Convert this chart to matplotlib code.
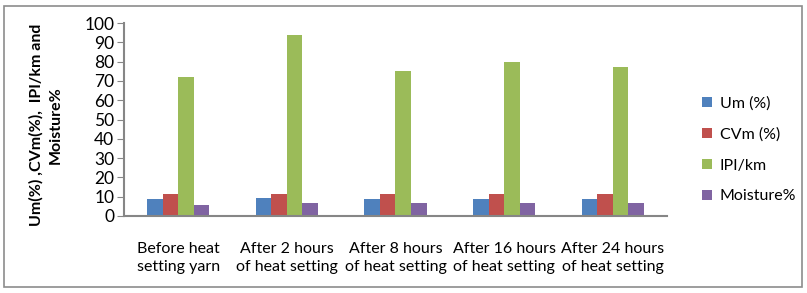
import numpy as np
import matplotlib.pyplot as plt
from matplotlib.patches import Rectangle

categories = ["Before heat\nsetting yarn", "After 2 hours\nof heat setting",
              "After 8 hours\nof heat setting", "After 16 hours\nof heat setting",
              "After 24 hours\nof heat setting"]
um = [8.8, 9.3, 8.8, 8.8, 8.8]
cvm = [11.4, 11.4, 11.4, 11.4, 11.4]
ipi = [72, 94, 75, 80, 77]
moisture = [5.7, 6.7, 6.7, 6.7, 6.7]

series = [("Um (%)", um, "#4F81BD"), ("CVm (%)", cvm, "#C0504D"),
          ("IPI/km", ipi, "#9BBB59"), ("Moisture%", moisture, "#8064A2")]

plt.rcParams['font.family'] = ['Lato', 'DejaVu Sans']

W, H = 807, 293
fig = plt.figure(figsize=(W / 100, H / 100), dpi=100)
fig.patches.append(Rectangle((4 / W, 6 / H), 798 / W, 281 / H, transform=fig.transFigure,
                             fill=False, edgecolor="#8c8c8c", linewidth=1.2))

ax = fig.add_axes([124 / W, 1 - 216 / H, 543 / W, 193 / H])
x = np.arange(len(categories))
bw = 0.143
for i, (name, vals, col) in enumerate(series):
    ax.bar(x + (i - 1.5) * bw, vals, bw, color=col, label=name)

ax.set_xlim(-0.5, len(categories) - 0.5)
ax.set_ylim(0, 100)
ax.set_yticks(range(0, 101, 10))
ax.set_xticks(x)
ax.set_xticklabels(categories, fontsize=11.5, linespacing=1.3)
ax.tick_params(axis='x', length=0, pad=19)
ax.tick_params(axis='y', length=5, color="#868686", labelsize=12.5, pad=2, direction='out')
for s in ["top", "right"]:
    ax.spines[s].set_visible(False)
for s in ["left", "bottom"]:
    ax.spines[s].set_color("#868686")
    ax.spines[s].set_linewidth(1.5)

fig.text(46 / W, 1 - 125 / H, "Um(%) ,CVm(%),  IPI/km and\nMoisture%", rotation=90,
         ha="center", va="center", fontsize=11.5, fontweight="bold", linespacing=1.5)

leg = fig.legend(loc="upper left", bbox_to_anchor=(688 / W, 1 - 82 / H), frameon=False,
                 fontsize=11.5, handlelength=0.6, handleheight=0.6, labelspacing=1.05,
                 handletextpad=0.5)

fig.savefig("out.png", dpi=100)
